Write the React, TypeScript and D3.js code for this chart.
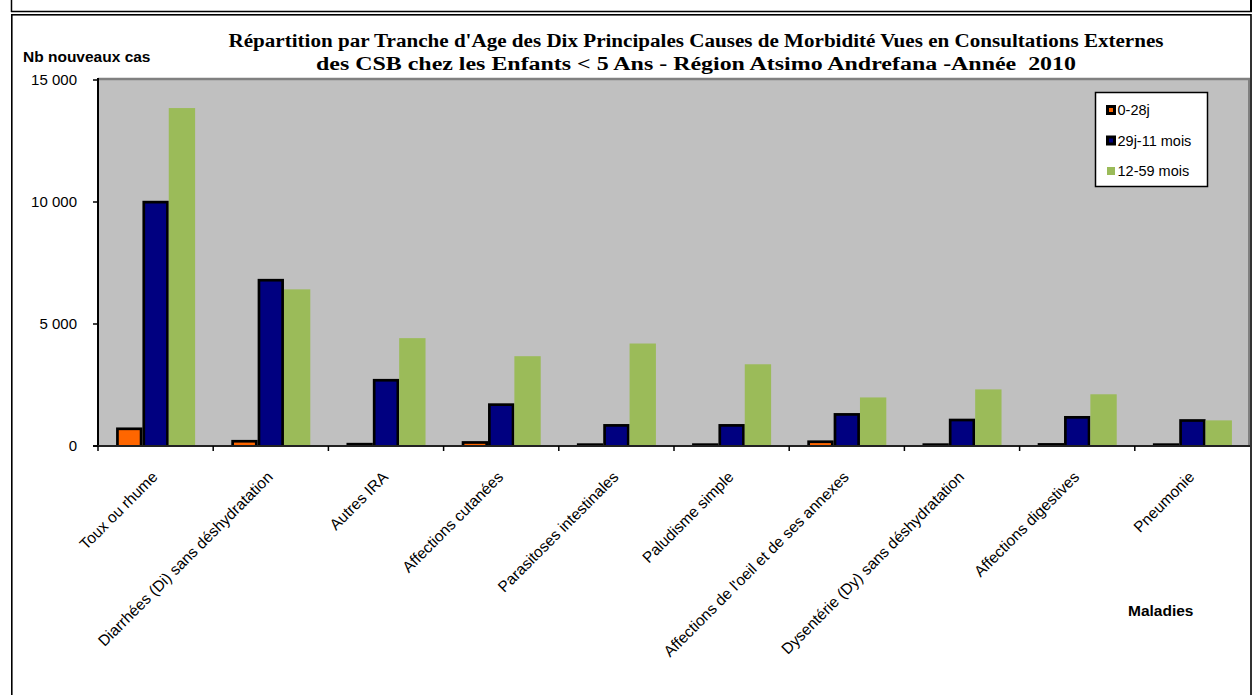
import React from "react";
import * as d3 from "d3";

const categories = [
  "Toux ou rhume",
  "Diarrhées (Di) sans déshydratation",
  "Autres IRA",
  "Affections cutanées",
  "Parasitoses intestinales",
  "Paludisme simple",
  "Affections de l'oeil et de ses annexes",
  "Dysentérie (Dy) sans déshydratation",
  "Affections digestives",
  "Pneumonie",
];
const seriesNames = ["0-28j", "29j-11 mois", "12-59 mois"];
const s0_28j = [760, 250, 130, 200, 40, 70, 230, 50, 120, 60];
const s29j_11m = [10050, 6850, 2750, 1750, 900, 900, 1350, 1120, 1230, 1100];
const s12_59m = [13850, 6420, 4420, 3680, 4200, 3350, 1990, 2320, 2120, 1050];
const yTicks = [0, 5000, 10000, 15000];
const titleLines = [
  "Répartition par Tranche d'Age des Dix Principales Causes de Morbidité Vues en Consultations Externes",
  "des CSB chez les Enfants < 5 Ans - Région Atsimo Andrefana -Année  2010",
];
const titleWidths = [935, 760];

const colors = ["#FF6600", "#000080", "#9BBB59"];
const bordered = [true, true, false];

export default function App() {
  const W = 1253, H = 695;
  const left = 98, right = 1250, top = 80, bottom = 446;
  const x0 = d3.scaleBand<string>().domain(categories).range([left, right]).paddingInner(0.314).paddingOuter(0.157);
  const x1 = d3.scaleBand<string>().domain(seriesNames).range([0, x0.bandwidth()]);
  const y = d3.scaleLinear().domain([0, 15000]).range([bottom, top]);
  const series = [s0_28j, s29j_11m, s12_59m];
  const fmt = (v: number) => d3.format(",")(v).replace(/,/g, " ");
  const sans = "'Liberation Sans', Arial, sans-serif";
  const serif = "'Liberation Serif', 'Times New Roman', serif";
  const step = x0.step();
  const sw = 2.7;

  return (
    <svg width={W} height={H} style={{ position: "absolute", left: 0, top: 0, background: "#fff" }}>
      {/* frames */}
      <line x1={11.5} y1={0} x2={11.5} y2={12} stroke="#000" strokeWidth={1.5} />
      <line x1={1251} y1={0} x2={1251} y2={12} stroke="#000" strokeWidth={2} />
      <line x1={11} y1={11.5} x2={1252} y2={11.5} stroke="#000" strokeWidth={1.5} />
      <rect x={11.8} y={14.8} width={1239.2} height={700} fill="none" stroke="#000" strokeWidth={1.6} />

      {/* plot area */}
      <rect x={left} y={top} width={right - left} height={bottom - top} fill="#C0C0C0" />
      <line x1={left} y1={top - 1} x2={right} y2={top - 1} stroke="#808080" strokeWidth={2.5} />
      <line x1={right - 1} y1={top} x2={right - 1} y2={bottom} stroke="#808080" strokeWidth={2} />

      {/* bars */}
      {categories.map((c, i) => (
        <g key={c} transform={`translate(${x0(c)},0)`}>
          {series.map((s, k) => {
            const bx = x1(seriesNames[k])!;
            const bw = x1.bandwidth();
            const yt = y(s[i]);
            const h = bottom - yt;
            if (!bordered[k]) {
              return <rect key={k} x={bx} y={yt} width={bw} height={h} fill={colors[k]} />;
            }
            return (
              <g key={k}>
                <rect x={bx} y={Math.min(yt, bottom - sw)} width={bw} height={Math.max(h, sw)} fill="#000" />
                {h > sw && (
                  <rect x={bx + sw} y={yt + sw} width={bw - 2 * sw} height={h - sw} fill={colors[k]} />
                )}
              </g>
            );
          })}
        </g>
      ))}

      {/* axes */}
      <line x1={left} y1={top - 2} x2={left} y2={bottom + 1} stroke="#000" strokeWidth={2} />
      <line x1={left - 5} y1={bottom} x2={right} y2={bottom} stroke="#222" strokeWidth={2} />
      {yTicks.map((t) => (
        <g key={t}>
          <line x1={left - 5} y1={y(t)} x2={left} y2={y(t)} stroke="#000" strokeWidth={1.5} />
          <text x={77} y={y(t) + 5} textAnchor="end" fontFamily={sans} fontSize={15} fill="#000">
            {fmt(t)}
          </text>
        </g>
      ))}
      {categories.map((c, i) => (
        <line key={c} x1={left + i * step} y1={bottom} x2={left + i * step} y2={bottom + 5} stroke="#000" strokeWidth={1.5} />
      ))}
      {categories.map((c) => {
        const cx = x0(c)! + x0.bandwidth() / 2 + 3;
        const cy = 478;
        return (
          <text key={c} x={cx} y={cy} textAnchor="end" fontFamily={sans} fontSize={15.5} fill="#000"
            transform={`rotate(-45 ${cx} ${cy})`}>
            {c}
          </text>
        );
      })}

      {/* axis titles */}
      <text x={23} y={62} fontFamily={sans} fontWeight="bold" fontSize={15.5} fill="#000">Nb nouveaux cas</text>
      <text x={1128} y={616} fontFamily={sans} fontWeight="bold" fontSize={15.5} fill="#000">Maladies</text>

      {/* title */}
      {titleLines.map((t, i) => (
        <text key={i} x={696 - titleWidths[i] / 2} y={47 + i * 23} fontFamily={serif} fontWeight="bold" fontSize={18}
          fill="#000" textLength={titleWidths[i]} lengthAdjust="spacingAndGlyphs" style={{ whiteSpace: "pre" }}>
          {t}
        </text>
      ))}

      {/* legend */}
      <rect x={1095.5} y={92.5} width={112} height={94} fill="#fff" stroke="#000" strokeWidth={1.5} />
      {seriesNames.map((n, k) => {
        const cy = 110 + k * 30.5;
        return (
          <g key={n}>
            {bordered[k] ? (
              <>
                <rect x={1106} y={cy - 5} width={10} height={10} fill="#000" />
                <rect x={1109} y={cy - 2} width={4} height={4} fill={colors[k]} />
              </>
            ) : (
              <rect x={1107} y={cy - 4} width={8} height={8} fill={colors[k]} />
            )}
            <text x={1117.5} y={cy + 5} fontFamily={sans} fontSize={14.5} fill="#000">{n}</text>
          </g>
        );
      })}
    </svg>
  );
}
